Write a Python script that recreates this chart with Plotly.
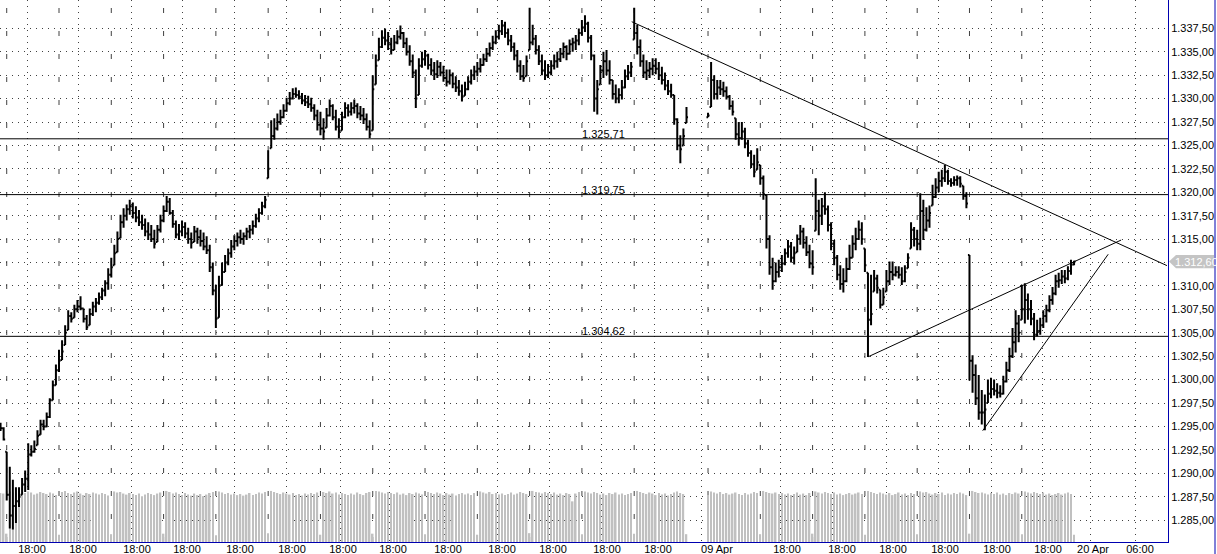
import plotly.graph_objects as go

# bar positions: two blocks of sessions with the weekend gap in between
bars_before_gap = list(range(0, 224))
bars_after_gap = list(range(230, 350))
bar_index = bars_before_gap + bars_after_gap

# one row per session (17 bars)
highs = [
    1295.4, 1294.9,
    1292.3, 1290.7, 1289.3, 1288.5, 1288.5, 1289.5, 1290.3, 1293.2, 1293.0, 1293.5, 1294.6, 1295.7, 1295.7, 1296.5, 1298.0, 1299.9, 1301.6,
    1303.2, 1304.2, 1305.8, 1307.4, 1307.2, 1308.0, 1308.5, 1308.9, 1307.6, 1306.9, 1307.6, 1308.3, 1308.7, 1309.3, 1309.8, 1310.6, 1311.9,
    1313.0, 1314.4, 1315.8, 1317.6, 1318.3, 1318.7, 1319.2, 1318.9, 1318.5, 1318.1, 1317.6, 1317.2, 1316.8, 1316.5, 1316.0, 1316.5, 1317.6,
    1318.6, 1319.6, 1319.4, 1318.1, 1317.0, 1316.6, 1317.0, 1316.8, 1316.2, 1315.7, 1316.4, 1316.2, 1316.0, 1315.7, 1315.3, 1314.4, 1312.5,
    1310.1, 1311.1, 1312.5, 1313.3, 1314.0, 1314.9, 1315.4, 1315.7, 1316.0, 1315.7, 1316.2, 1316.5, 1317.0, 1317.7, 1318.3, 1319.0, 1319.6,
    1324.5, 1327.7, 1327.9, 1328.4, 1328.8, 1329.4, 1330.1, 1330.7, 1331.1, 1331.2, 1330.9, 1330.6, 1330.4, 1330.3, 1330.1, 1329.4, 1328.8,
    1328.6, 1327.9, 1329.0, 1329.9, 1329.4, 1328.8, 1327.9, 1328.6, 1329.6, 1329.4, 1329.6, 1329.9, 1329.5, 1329.2, 1329.0, 1328.4, 1327.7,
    1332.5, 1334.7, 1336.5, 1337.3, 1337.5, 1337.1, 1336.5, 1336.8, 1337.3, 1337.8, 1337.1, 1336.5, 1335.7, 1334.7, 1333.1, 1334.3, 1335.0,
    1335.2, 1334.8, 1334.3, 1333.9, 1334.1, 1333.9, 1333.5, 1333.1, 1333.1, 1332.8, 1332.4, 1332.0, 1331.5, 1331.8, 1332.4, 1333.1, 1333.5,
    1333.9, 1334.3, 1334.8, 1335.4, 1336.0, 1336.7, 1337.3, 1337.9, 1338.4, 1338.2, 1337.5, 1336.8, 1336.0, 1335.2, 1334.1, 1333.6, 1334.6,
    1339.7, 1337.9, 1336.8, 1335.7, 1334.7, 1334.1, 1333.7, 1334.1, 1334.7, 1335.0, 1335.4, 1336.0, 1335.7, 1336.3, 1336.5, 1336.8, 1337.5,
    1338.4, 1338.9, 1338.2, 1336.8, 1334.7, 1332.0, 1333.6, 1335.0, 1335.2, 1334.1, 1332.0, 1331.5, 1331.1, 1332.0, 1333.1, 1333.6, 1333.9,
    1339.7, 1337.9, 1336.3, 1334.7, 1334.1, 1333.9, 1334.3, 1334.3, 1333.9, 1333.4, 1332.8, 1332.0, 1331.6, 1330.4, 1327.9, 1326.1, 1326.8,
    1329.1,
    1328.5, 1333.9, 1332.5, 1332.0, 1332.0, 1331.8, 1331.3, 1330.4, 1329.8, 1327.9, 1327.5, 1327.5, 1326.9, 1325.6, 1324.5, 1324.0, 1324.7,
    1322.9, 1321.8, 1319.7, 1315.4, 1313.0, 1312.5, 1312.8, 1313.3, 1314.0, 1314.9, 1314.7, 1314.2, 1315.5, 1316.5, 1316.2, 1315.3, 1314.4,
    1313.8, 1321.5, 1319.2, 1319.4, 1320.0, 1318.6, 1316.8, 1314.9, 1313.3, 1312.2, 1311.9, 1313.0, 1314.4, 1315.4, 1316.2, 1317.0, 1316.8,
    1314.0, 1311.4, 1311.2, 1311.7, 1311.2, 1309.6, 1309.8, 1311.7, 1312.6, 1312.6, 1312.1, 1312.1, 1312.0, 1312.2, 1313.5, 1316.8, 1316.3,
    1316.0, 1319.9, 1319.2, 1318.4, 1318.6, 1320.8, 1321.5, 1322.2, 1322.4, 1322.9, 1322.4, 1321.5, 1321.7, 1321.8, 1321.7, 1320.7, 1320.0,
    1313.3, 1302.6, 1301.6, 1300.5, 1298.9, 1298.4, 1300.0, 1300.2, 1300.0, 1299.6, 1299.4, 1300.4, 1301.9, 1303.4, 1305.5, 1307.4, 1306.9,
    1310.1, 1310.3, 1309.2, 1308.5, 1307.1, 1306.4, 1306.6, 1307.4, 1308.0, 1309.0, 1309.9, 1311.2, 1311.4, 1311.7, 1311.7, 1312.1, 1312.8,
    1312.7,
]

lows = [
    1294.5, 1293.5,
    1287.1, 1284.1, 1284.0, 1284.7, 1286.4, 1287.7, 1288.0, 1288.2, 1291.8, 1292.2, 1293.0, 1294.1, 1294.6, 1294.9, 1295.9, 1297.8, 1299.4,
    1300.8, 1302.1, 1303.7, 1305.3, 1306.1, 1306.6, 1307.2, 1307.4, 1306.1, 1305.3, 1305.8, 1306.8, 1307.2, 1308.0, 1308.5, 1308.9, 1309.6,
    1310.9, 1312.2, 1313.6, 1315.1, 1316.2, 1317.0, 1317.6, 1317.2, 1316.8, 1316.4, 1316.0, 1315.3, 1314.9, 1314.7, 1314.0, 1314.7, 1315.7,
    1316.8, 1317.9, 1317.6, 1316.2, 1315.1, 1314.9, 1315.3, 1315.1, 1314.5, 1314.0, 1314.7, 1314.5, 1314.2, 1313.8, 1313.4, 1311.5, 1309.0,
    1305.5, 1306.6, 1310.1, 1311.5, 1312.2, 1313.0, 1313.8, 1314.2, 1314.5, 1314.4, 1314.9, 1315.1, 1315.5, 1316.2, 1316.8, 1317.6, 1318.3,
    1321.5, 1324.7, 1325.6, 1326.6, 1327.2, 1327.9, 1328.6, 1329.3, 1329.9, 1330.1, 1329.9, 1329.4, 1329.2, 1329.0, 1328.6, 1327.7, 1326.6,
    1326.1, 1325.6, 1326.9, 1328.1, 1327.7, 1326.6, 1325.8, 1326.6, 1327.9, 1328.1, 1328.2, 1328.4, 1327.9, 1327.7, 1327.3, 1326.6, 1325.8,
    1326.6, 1331.5, 1334.1, 1335.4, 1335.7, 1335.2, 1334.7, 1335.2, 1335.8, 1336.3, 1335.4, 1334.6, 1333.5, 1332.2, 1329.0, 1330.4, 1333.3,
    1333.5, 1333.1, 1332.5, 1332.0, 1332.2, 1332.4, 1331.8, 1331.3, 1331.5, 1331.1, 1330.7, 1330.3, 1329.7, 1330.3, 1330.9, 1331.5, 1332.0,
    1332.4, 1332.8, 1333.5, 1333.9, 1334.5, 1335.2, 1335.8, 1336.3, 1336.8, 1336.5, 1335.7, 1335.0, 1334.1, 1332.8, 1332.0, 1331.8, 1332.4,
    1335.2, 1335.7, 1334.7, 1333.6, 1332.5, 1332.0, 1332.2, 1332.5, 1333.1, 1333.3, 1333.9, 1334.3, 1334.1, 1334.7, 1335.0, 1335.2, 1335.7,
    1336.7, 1337.1, 1336.0, 1334.1, 1328.6, 1328.3, 1331.5, 1332.2, 1332.5, 1331.5, 1329.9, 1329.5, 1329.5, 1329.9, 1331.1, 1332.0, 1332.3,
    1336.3, 1334.7, 1333.4, 1332.2, 1332.0, 1332.2, 1332.5, 1332.6, 1332.0, 1331.5, 1330.9, 1330.4, 1330.1, 1327.2, 1324.5, 1323.1, 1325.0,
    1327.4,
    1328.0, 1329.1, 1329.9, 1329.9, 1330.4, 1330.2, 1329.9, 1328.8, 1328.2, 1325.6, 1325.0, 1325.6, 1324.7, 1323.8, 1322.6, 1321.6, 1322.4,
    1320.8, 1319.2, 1314.0, 1311.2, 1309.6, 1310.4, 1310.9, 1311.5, 1312.2, 1313.0, 1312.5, 1312.3, 1313.6, 1314.4, 1314.0, 1313.2, 1311.9,
    1311.2, 1315.9, 1315.4, 1316.5, 1317.6, 1315.8, 1313.8, 1312.2, 1310.6, 1309.6, 1309.3, 1310.4, 1311.7, 1313.0, 1313.8, 1314.9, 1314.4,
    1311.5, 1302.4, 1305.8, 1309.4, 1309.2, 1307.6, 1308.0, 1309.4, 1310.1, 1310.6, 1311.0, 1310.8, 1310.1, 1310.4, 1311.9, 1314.0, 1314.2,
    1313.8, 1313.8, 1314.9, 1315.8, 1316.2, 1318.6, 1319.4, 1320.0, 1320.6, 1321.1, 1320.8, 1320.6, 1320.7, 1320.7, 1320.5, 1319.2, 1318.3,
    1299.9, 1298.6, 1297.3, 1295.7, 1295.2, 1294.6, 1297.5, 1298.0, 1298.3, 1298.0, 1298.1, 1298.4, 1299.7, 1300.8, 1302.3, 1302.9, 1304.0,
    1306.4, 1306.0, 1306.4, 1305.8, 1304.2, 1304.6, 1304.8, 1305.5, 1306.1, 1307.2, 1308.0, 1309.0, 1309.8, 1310.2, 1310.3, 1310.6, 1311.2,
    1312.2,
]

closes = [
    1294.8, 1293.6,
    1287.7, 1285.5, 1286.5, 1287.0, 1287.5, 1288.8, 1289.4, 1292.0, 1292.3, 1292.6, 1294.0, 1295.2, 1295.0, 1296.0, 1297.8, 1299.4, 1301.0,
    1302.0, 1303.0, 1305.0, 1306.8, 1306.5, 1307.5, 1307.8, 1307.6, 1306.5, 1305.6, 1307.0, 1307.8, 1308.2, 1308.8, 1309.5, 1310.3, 1311.2,
    1312.0, 1313.5, 1315.0, 1316.8, 1317.5, 1318.2, 1318.5, 1317.8, 1317.3, 1316.8, 1316.5, 1315.8, 1315.5, 1315.0, 1314.5, 1316.0, 1317.0,
    1318.0, 1319.0, 1317.8, 1316.6, 1315.5, 1315.8, 1316.3, 1315.6, 1315.0, 1314.6, 1315.8, 1315.2, 1314.8, 1314.2, 1313.8, 1312.0, 1309.5,
    1306.5, 1310.0, 1311.5, 1312.5, 1313.5, 1314.2, 1314.8, 1315.2, 1315.0, 1315.3, 1315.8, 1316.0, 1316.4, 1317.2, 1317.8, 1318.5, 1319.2,
    1322.5, 1326.0, 1326.8, 1327.5, 1328.0, 1328.7, 1329.5, 1330.0, 1330.5, 1330.4, 1330.2, 1329.8, 1329.6, 1329.4, 1329.0, 1328.2, 1327.2,
    1326.8, 1326.5, 1328.2, 1329.2, 1328.0, 1327.0, 1326.5, 1328.0, 1329.0, 1328.6, 1329.0, 1329.2, 1328.4, 1328.2, 1327.8, 1327.0, 1326.2,
    1331.0, 1333.5, 1335.5, 1336.5, 1336.2, 1335.8, 1335.2, 1336.0, 1336.6, 1337.0, 1335.9, 1335.0, 1334.0, 1332.8, 1330.0, 1333.5, 1334.2,
    1334.6, 1333.6, 1333.0, 1332.6, 1333.4, 1332.8, 1332.2, 1331.8, 1332.5, 1331.6, 1331.2, 1330.8, 1330.2, 1331.0, 1331.8, 1332.5, 1332.9,
    1333.2, 1333.6, 1334.2, 1334.8, 1335.4, 1336.0, 1336.6, 1337.2, 1337.8, 1337.0, 1336.2, 1335.5, 1334.6, 1333.5, 1332.4, 1332.2, 1334.0,
    1336.0, 1336.4, 1335.2, 1334.0, 1333.0, 1332.5, 1332.8, 1333.5, 1334.0, 1334.2, 1334.8, 1335.5, 1334.8, 1335.8, 1336.0, 1336.2, 1337.0,
    1337.6, 1338.0, 1336.5, 1334.6, 1330.0, 1331.0, 1333.0, 1334.0, 1333.0, 1332.0, 1330.5, 1330.0, 1330.4, 1331.2, 1332.4, 1332.8, 1333.4,
    1337.0, 1335.5, 1334.0, 1332.8, 1333.0, 1333.2, 1333.5, 1333.2, 1332.5, 1332.0, 1331.4, 1330.8, 1330.4, 1327.8, 1325.0, 1324.6, 1326.0,
    1328.0,
    1328.2, 1332.0, 1330.5, 1331.2, 1331.0, 1330.8, 1330.2, 1329.2, 1328.6, 1326.2, 1325.8, 1326.5, 1325.2, 1324.2, 1323.0, 1322.2, 1323.2,
    1321.5, 1319.8, 1315.0, 1312.0, 1310.5, 1311.5, 1312.0, 1312.4, 1313.5, 1314.2, 1313.0, 1313.5, 1315.0, 1315.8, 1314.6, 1313.6, 1312.4,
    1312.0, 1318.0, 1317.5, 1318.5, 1318.2, 1316.5, 1314.5, 1313.0, 1311.2, 1310.2, 1310.5, 1311.8, 1313.0, 1314.5, 1315.0, 1316.0, 1315.0,
    1312.2, 1306.4, 1307.0, 1310.8, 1309.8, 1308.0, 1308.8, 1310.5, 1311.5, 1311.2, 1311.5, 1311.2, 1310.5, 1311.5, 1313.0, 1316.0, 1315.0,
    1314.5, 1318.0, 1316.0, 1317.0, 1317.8, 1319.5, 1320.5, 1321.2, 1321.5, 1322.2, 1321.2, 1321.0, 1321.3, 1321.5, 1320.9, 1319.6, 1318.8,
    1302.0, 1300.5, 1298.0, 1296.5, 1296.5, 1296.8, 1298.5, 1299.0, 1298.8, 1298.6, 1298.5, 1299.8, 1301.0, 1302.5, 1304.0, 1306.0, 1305.0,
    1307.5, 1308.5, 1307.5, 1306.5, 1304.8, 1305.2, 1305.8, 1306.8, 1307.4, 1308.5, 1309.2, 1310.5, 1310.6, 1311.0, 1310.8, 1311.6, 1312.3,
    1312.6,
]

volumes = [
    94, 93,
    16, 97, 95, 93, 96, 92, 94, 97, 95, 91, 93, 96, 94, 92, 95, 93, 90,
    14, 96, 98, 94, 92, 95, 97, 93, 90, 94, 92, 95, 93, 91, 94, 92, 89,
    15, 97, 95, 96, 93, 91, 94, 92, 90, 93, 88, 91, 94, 92, 90, 93, 95,
    16, 98, 96, 93, 95, 92, 90, 94, 91, 89, 93, 90, 92, 88, 91, 94, 96,
    13, 97, 95, 92, 94, 91, 93, 90, 92, 89, 91, 94, 90, 92, 95, 93, 96,
    17, 98, 96, 94, 92, 95, 93, 91, 94, 90, 92, 89, 93, 91, 94, 92, 95,
    14, 96, 94, 97, 93, 95, 91, 94, 92, 90, 93, 91, 95, 92, 90, 94, 96,
    16, 98, 97, 95, 93, 96, 94, 92, 95, 91, 93, 90, 94, 92, 95, 93, 91,
    15, 96, 94, 92, 95, 93, 90, 94, 91, 93, 89, 92, 94, 91, 93, 90, 94,
    14, 97, 95, 93, 96, 92, 94, 91, 93, 90, 92, 95, 91, 93, 96, 94, 92,
    17, 98, 96, 95, 93, 96, 94, 92, 95, 91, 93, 90, 94, 92, 78, 93, 96,
    15, 97, 95, 93, 96, 94, 91, 93, 90, 94, 92, 95, 91, 93, 90, 92, 94,
    16, 98, 96, 94, 92, 95, 93, 90, 94, 91, 93, 89, 92, 95, 97, 94, 92,
    15,
    90, 97, 95, 93, 96, 92, 94, 91, 93, 95, 92, 90, 94, 91, 93, 96, 94,
    15, 98, 96, 94, 93, 95, 92, 94, 91, 93, 90, 92, 95, 91, 93, 90, 94,
    16, 97, 95, 93, 96, 94, 92, 95, 91, 93, 90, 92, 94, 91, 93, 95, 92,
    14, 98, 96, 94, 92, 95, 93, 91, 94, 90, 92, 95, 91, 93, 90, 94, 92,
    15, 97, 95, 96, 93, 91, 94, 92, 95, 90, 93, 91, 94, 92, 95, 93, 90,
    16, 98, 96, 94, 95, 93, 91, 94, 92, 95, 91, 93, 90, 94, 92, 95, 93,
    15, 97, 95, 93, 96, 94, 92, 95, 91, 93, 90, 92, 94, 91, 93, 95, 92,
    14,
]

# horizontal support / resistance levels
levels = [1325.71, 1319.75, 1304.62]

# drawn trend lines: (bar positions, prices)
trend_x = [[205.2, 379.2], [282.1, 364.3], [319.3, 360.1]]
trend_y = [[1338.21, 1312.17], [1302.44, 1314.90], [1294.54, 1313.38]]

session_starts = [2, 19, 36, 53, 70, 87, 104, 121, 138, 155, 172, 189, 206,
                  230, 247, 264, 281, 298, 315, 332]
label_pos = [10.23, 26.81, 44.36, 60.62, 77.85, 94.75, 111.33, 127.59, 145.47,
             163.03, 179.6, 197.16, 213.74, 232.92, 255.68, 273.56, 290.14,
             307.04, 323.95, 340.53, 355.16, 370.44]
label_text = ["18:00"] * 13 + ["09 Apr"] + ["18:00"] * 6 + ["20 Apr", "06:00"]
grid_pos = [8.6, 25.5, 42.7, 59.0, 76.2, 93.1, 110.4, 126.3, 144.3, 161.5, 178.3,
            195.4, 212.5, 227.9, 253.7, 270.6, 287.9, 304.8, 322.0, 338.9, 354.2, 369.1]
price_ticks = [1285 + 2.5 * k for k in range(22)]

BLUE = "#0000b0"
GRID = "#404040"


def de_num(v):
    return f"{v:,.2f}".replace(",", "X").replace(".", ",").replace("X", ".")


# open = previous close, kept inside the bar range
opens = []
prev = closes[0]
for h, l, c in zip(highs, lows, closes):
    opens.append(min(max(prev, l), h))
    prev = c

last = closes[-1]
# the last-price tag sits over the scale label it would collide with
price_text = ["" if abs(t - last) < 1 else de_num(t) for t in price_ticks]

fig = go.Figure()

fig.add_trace(go.Bar(
    x=bar_index, y=volumes, width=0.5, yaxis="y",
    marker=dict(color="#c0c0c0", line=dict(width=0)),
    hoverinfo="skip",
))

fig.add_trace(go.Ohlc(
    x=bar_index, open=opens, high=highs, low=lows, close=closes, yaxis="y2",
    increasing=dict(line=dict(color="black", width=2)),
    decreasing=dict(line=dict(color="black", width=2)),
    tickwidth=0.5,
))

for tx, ty in zip(trend_x, trend_y):
    fig.add_trace(go.Scatter(
        x=tx, y=ty, mode="lines", yaxis="y2",
        line=dict(color="black", width=1), hoverinfo="skip",
    ))

for s in session_starts:
    fig.add_shape(type="line", xref="x", yref="paper", x0=s, x1=s, y0=0, y1=1,
                  line=dict(color=GRID, width=1, dash="5px,18px"), layer="below")

for lv in levels:
    fig.add_shape(type="line", xref="paper", yref="y2", x0=0, x1=1, y0=lv, y1=lv,
                  line=dict(color="black", width=1))
    fig.add_annotation(x=195.9, y=lv, xref="x", yref="y2", text=de_num(lv),
                       showarrow=False, yanchor="bottom", yshift=-3,
                       font=dict(size=11, color="black"))

# last price tag on the price scale
x_a, x_b, x_c = 1169 / 1168, 1176 / 1168, 1214 / 1168
fig.add_shape(
    type="path", xref="paper", yref="y2",
    path=(f"M {x_a},{last} L {x_b},{last + 0.7} L {x_c},{last + 0.7} "
          f"L {x_c},{last - 0.7} L {x_b},{last - 0.7} Z"),
    fillcolor="#c4c4c4", line=dict(width=0), layer="above",
)
fig.add_annotation(x=1173 / 1168, y=last, xref="paper", yref="y2", text=de_num(last),
                   showarrow=False, xanchor="left", font=dict(size=11, color="white"))

# right border of the scale panel
fig.add_shape(type="line", xref="paper", yref="paper", x0=1215 / 1168, x1=1215 / 1168,
              y0=-12 / 542, y1=1, line=dict(color=BLUE, width=1))

fig.update_layout(
    width=1217, height=554,
    margin=dict(l=0, r=49, t=0, b=12),
    paper_bgcolor="white", plot_bgcolor="white",
    showlegend=False, separators=",.",
    font=dict(family="Liberation Sans, Arial, sans-serif", size=11, color="black"),
    xaxis=dict(
        range=[-0.18, 379.54], tickmode="array", tickvals=label_pos, ticktext=label_text,
        showgrid=False, ticks="", zeroline=False, automargin=False,
        ticklabelstandoff=-3,
        showline=True, linecolor=BLUE, linewidth=1,
        rangeslider=dict(visible=False),
        minor=dict(tickmode="array", tickvals=grid_pos, showgrid=True,
                   gridcolor=GRID, griddash="1px,5px", gridwidth=1, ticks=""),
    ),
    yaxis=dict(range=[0, 1040], visible=False, showgrid=False, zeroline=False),
    yaxis2=dict(
        overlaying="y", side="right", range=[1282.66, 1340.53],
        tickmode="array", tickvals=price_ticks, ticktext=price_text,
        showgrid=True, gridcolor=GRID, griddash="1px,5px", gridwidth=1,
        showline=True, linecolor=BLUE, linewidth=1,
        ticks="", zeroline=False, automargin=False,
    ),
)

# the page body has a default 8px margin; drop it so the chart sits at the corner
fig.write_html("out.html", config={"displayModeBar": False},
               post_script="document.body.style.margin='0px';")
